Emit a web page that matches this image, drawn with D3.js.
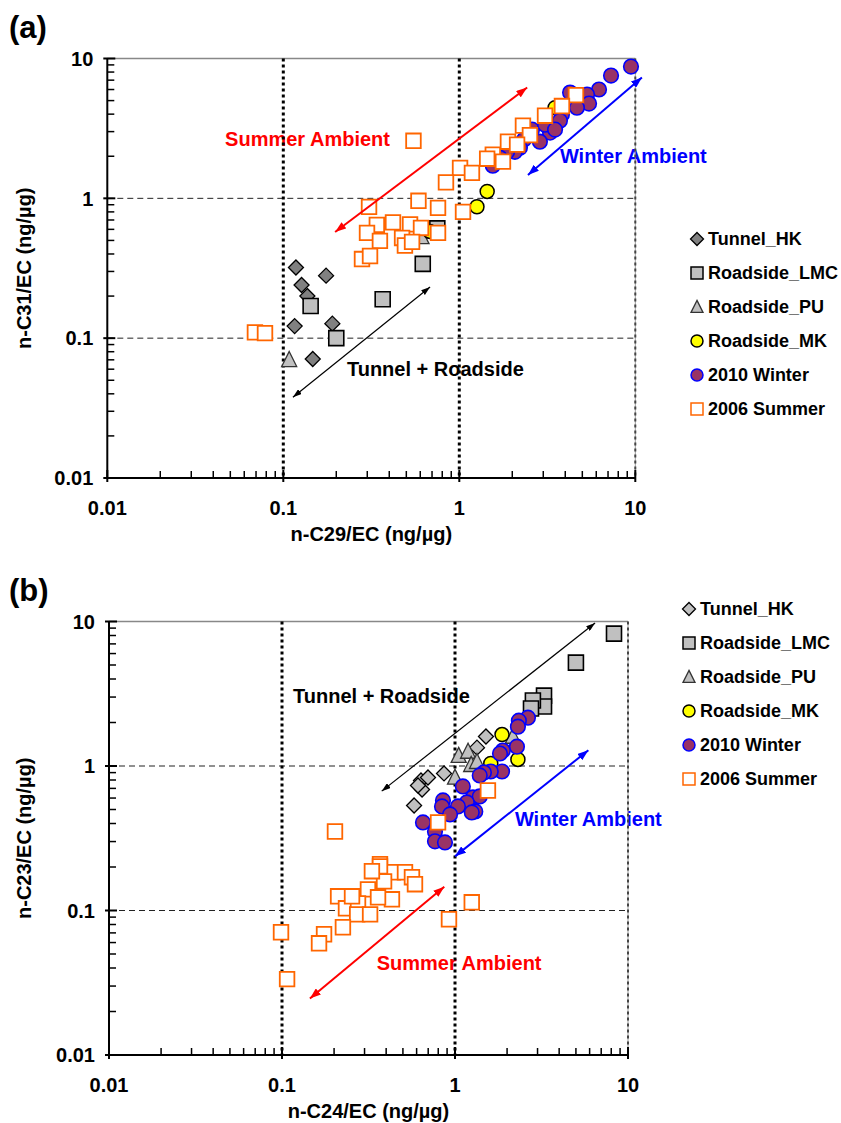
<!DOCTYPE html>
<html>
<head>
    <meta charset="utf-8">
    <title>n-alkane / EC scatter</title>
    <script src="https://cdn.jsdelivr.net/npm/d3@7"></script>
    <style>
        body { margin: 0; background: #fff; }
        svg text { font-family: "Liberation Sans", Arial, Helvetica, sans-serif; font-weight: bold; }
    </style>
</head>
<body>
<script>
    // ---- data (ratios in ng/µg) ----
    var seriesNames = ["Tunnel_HK", "Roadside_LMC", "Roadside_PU", "Roadside_MK", "2010 Winter", "2006 Summer"];
    var tickValues = [0.01, 0.1, 1, 10];
    var tickLabels = ["0.01", "0.1", "1", "10"];

    // panel (a): n-C29/EC vs n-C31/EC
    var tunnelA = [[0.118,0.32],[0.127,0.24],[0.137,0.20],[0.175,0.28],[0.116,0.122],[0.19,0.127],[0.147,0.071]];
    var lmcA = [[0.143,0.17],[0.367,0.19],[0.62,0.34],[0.20,0.10],[0.75,0.61]];
    var puA = [[0.108,0.07],[0.61,0.53]];
    var mkA = [[1.44,1.12],[1.26,0.87],[0.68,0.58],[3.5,4.45]];
    var winterA = [[9.45,8.76],[7.28,7.55],[6.22,6.0],[5.32,5.52],[4.26,5.71],[5.46,4.76],[4.66,4.45],
        [3.83,3.97],[3.73,3.59],[3.28,2.95],[2.87,2.54],[2.59,3.10],[2.33,2.63],[2.21,2.30],[2.07,2.15],
        [1.87,2.15],[1.55,1.71],[1.70,1.95],[3.07,3.36],[3.50,3.10]];
    var summerA = [[4.60,5.47],[3.83,4.57],[3.07,3.90],[2.30,3.31],[2.52,2.83],[1.89,2.54],[2.13,2.42],
        [1.55,2.05],[1.77,1.83],[1.44,1.92],[1.01,1.65],[1.18,1.52],[0.84,1.30],[0.549,2.58],[0.586,0.96],
        [0.757,0.855],[1.05,0.80],[0.307,0.869],[0.34,0.645],[0.42,0.673],[0.525,0.651],[0.606,0.614],
        [0.757,0.566],[0.299,0.566],[0.354,0.496],[0.473,0.521],[0.491,0.46],[0.539,0.488],[0.28,0.368],
        [0.311,0.387],[0.069,0.110],[0.0787,0.1086]];

    // panel (b): n-C24/EC vs n-C23/EC
    var tunnelB = [[0.58,0.533],[0.636,0.794],[0.698,0.833],[0.864,0.888],[1.34,1.34],[1.51,1.60],[0.645,0.688],[0.611,0.733]];
    var lmcB = [[8.30,8.24],[5.00,5.19],[3.27,3.07],[3.27,2.58],[2.82,2.84],[2.75,2.50]];
    var puB = [[1.05,1.18],[1.19,1.26],[1.24,1.02],[1.0,0.833],[2.16,1.60],[1.34,1.07]];
    var mkB = [[1.87,1.65],[2.31,1.11],[1.61,1.04]];
    var winterB = [[2.64,2.16],[2.34,2.06],[2.31,1.87],[2.28,1.36],[1.89,1.28],[1.82,1.22],[1.87,0.916],
        [1.61,0.916],[1.47,0.902],[1.39,0.86],[1.11,0.722],[1.27,0.606],[1.39,0.616],[1.17,0.56],[1.04,0.525],
        [1.31,0.485],[1.25,0.477],[0.852,0.578],[0.841,0.525],[0.936,0.462],[0.653,0.407],[0.766,0.352],
        [0.766,0.301],[0.875,0.296]];
    var summerB = [[1.55,0.677],[0.798,0.407],[0.2024,0.352],[0.3685,0.209],[0.438,0.184],[0.514,0.184],
        [0.564,0.170],[0.587,0.152],[0.389,0.159],[0.3685,0.202],[0.314,0.140],[0.432,0.1195],[0.359,0.1234],
        [0.211,0.1254],[0.2344,0.1036],[0.275,0.112],[0.272,0.094],[0.323,0.094],[0.225,0.0766],[0.175,0.0685],
        [0.1637,0.0593],[0.0987,0.0707],[0.107,0.0335],[0.923,0.087],[1.25,0.114],[0.254,0.1254],[0.331,0.187]];

    // ---- page ----
    var width = 841, height = 1123;
    var svg = d3.select("body").append("svg")
        .attr("width", width)
        .attr("height", height);

    // arrow heads
    var defs = svg.append("defs");
    [["red", "#ff0000", 11, 8], ["blue", "#0000ff", 11, 8], ["black", "#000", 9, 6]].forEach(function(m) {
        defs.append("marker")
            .attr("id", "head-" + m[0])
            .attr("markerUnits", "userSpaceOnUse")
            .attr("markerWidth", m[2]).attr("markerHeight", m[3])
            .attr("refX", m[2]).attr("refY", m[3] / 2)
            .attr("orient", "auto-start-reverse")
            .append("path")
            .attr("d", "M0,0L" + m[2] + "," + (m[3] / 2) + "L0," + m[3] + "Z")
            .attr("fill", m[1]);
    });

    function symbolPath(type, s) {
        if (type === "diamond") return "M0," + (-s) + "L" + s + ",0L0," + s + "L" + (-s) + ",0Z";
        if (type === "square") return "M" + (-s) + "," + (-s) + "h" + (2 * s) + "v" + (2 * s) + "h" + (-2 * s) + "Z";
        if (type === "triangle") return "M0," + (-s * 1.1) + "L" + s + "," + (s * 0.9) + "L" + (-s) + "," + (s * 0.9) + "Z";
        return d3.symbol(d3.symbolCircle, Math.PI * s * s)();
    }

    function drawPanel(p) {
        var x = d3.scaleLog().domain([0.01, 10]).range([p.left, p.right]);
        var y = d3.scaleLog().domain([0.01, 10]).range([p.bottom, p.top]);
        var g = svg.append("g");

        // panel letter
        g.append("text").attr("x", 9).attr("y", p.top - 21)
            .style("font-size", "31px").text(p.letter);

        // annotations (gridlines are drawn over them, like in the figure)
        p.notes.forEach(function(n) {
            g.append("text")
                .attr("x", x(n.x)).attr("y", y(n.y))
                .attr("fill", n.color)
                .style("font-size", "20px")
                .text(n.text);
        });

        // grid
        [0.1, 1].forEach(function(v) {
            g.append("line")
                .attr("x1", p.left).attr("x2", p.right)
                .attr("y1", y(v)).attr("y2", y(v))
                .attr("stroke", "#222").attr("stroke-width", 1)
                .attr("stroke-dasharray", "6,4");
        });
        g.append("line")
            .attr("x1", p.left).attr("x2", p.right)
            .attr("y1", p.top).attr("y2", p.top)
            .attr("stroke", "#888").attr("stroke-width", 1.5);
        g.append("line")
            .attr("x1", p.right).attr("x2", p.right)
            .attr("y1", p.top).attr("y2", p.bottom)
            .attr("stroke", "#999").attr("stroke-width", 1);
        [0.1, 1, 10].forEach(function(v) {
            g.append("line")
                .attr("x1", x(v)).attr("x2", x(v))
                .attr("y1", p.top).attr("y2", p.bottom)
                .attr("stroke", v === 10 ? "#444" : "#000")
                .attr("stroke-width", v === 10 ? 2 : 3)
                .attr("stroke-dasharray", "3,3");
        });

        // axes
        var minor = [];
        [0.01, 0.1, 1].forEach(function(d) {
            for (var k = 2; k <= 9; k++) minor.push(d * k);
        });
        g.append("line").attr("x1", p.left).attr("x2", p.left)
            .attr("y1", p.top).attr("y2", p.bottom)
            .attr("stroke", "#000").attr("stroke-width", 2);
        g.append("line").attr("x1", p.left).attr("x2", p.right)
            .attr("y1", p.bottom).attr("y2", p.bottom)
            .attr("stroke", "#000").attr("stroke-width", 2);
        g.selectAll(".ymin").data(minor).enter().append("line")
            .attr("x1", p.left).attr("x2", p.left + 7)
            .attr("y1", function(d) { return y(d); }).attr("y2", function(d) { return y(d); })
            .attr("stroke", "#000").attr("stroke-width", 1.5);
        g.selectAll(".xmin").data(minor).enter().append("line")
            .attr("y1", p.bottom).attr("y2", p.bottom - 7)
            .attr("x1", function(d) { return x(d); }).attr("x2", function(d) { return x(d); })
            .attr("stroke", "#000").attr("stroke-width", 1.5);
        g.selectAll(".ymaj").data(tickValues).enter().append("line")
            .attr("x1", p.left - 4).attr("x2", p.left + 8)
            .attr("y1", function(d) { return y(d); }).attr("y2", function(d) { return y(d); })
            .attr("stroke", "#000").attr("stroke-width", 2);
        g.selectAll(".xmaj").data(tickValues).enter().append("line")
            .attr("y1", p.bottom + 4).attr("y2", p.bottom - 8)
            .attr("x1", function(d) { return x(d); }).attr("x2", function(d) { return x(d); })
            .attr("stroke", "#000").attr("stroke-width", 2);

        g.selectAll(".ylab").data(tickValues).enter().append("text")
            .attr("x", p.left - 14).attr("y", function(d) { return y(d); })
            .attr("dy", "0.36em").attr("text-anchor", "end")
            .style("font-size", "20px")
            .text(function(d, i) { return tickLabels[i]; });
        g.selectAll(".xlab").data(tickValues).enter().append("text")
            .attr("x", function(d) { return x(d); }).attr("y", p.bottom + 30)
            .attr("dy", "0.36em").attr("text-anchor", "middle")
            .style("font-size", "20px")
            .text(function(d, i) { return tickLabels[i]; });

        g.append("text")
            .attr("x", (p.left + p.right) / 2).attr("y", p.bottom + 56)
            .attr("dy", "0.36em").attr("text-anchor", "middle")
            .style("font-size", "20px").text(p.xTitle);
        g.append("text")
            .attr("transform", "translate(24," + ((p.top + p.bottom) / 2) + ") rotate(-90)")
            .attr("dy", "0.36em").attr("text-anchor", "middle")
            .style("font-size", "20px").text(p.yTitle);

        // points, in legend order so summer sits on top
        p.series.forEach(function(s) {
            g.append("g").selectAll("path").data(s.data).enter().append("path")
                .attr("transform", function(d) { return "translate(" + x(d[0]) + "," + y(d[1]) + ")"; })
                .attr("d", symbolPath(s.type, s.size))
                .attr("fill", s.fill).attr("stroke", s.stroke).attr("stroke-width", s.sw);
        });

        // double-headed arrows
        p.arrows.forEach(function(a) {
            g.append("line")
                .attr("x1", x(a.x1)).attr("y1", y(a.y1))
                .attr("x2", x(a.x2)).attr("y2", y(a.y2))
                .attr("stroke", a.color).attr("stroke-width", a.w)
                .attr("marker-start", "url(#head-" + a.head + ")")
                .attr("marker-end", "url(#head-" + a.head + ")");
        });

        // legend
        var lg = g.append("g");
        p.series.forEach(function(s, i) {
            var ly = p.legendY + i * 34;
            lg.append("path")
                .attr("transform", "translate(" + p.legendX + "," + ly + ")")
                .attr("d", symbolPath(s.type, s.type === "diamond" ? 6.5 : 6))
                .attr("fill", s.fill).attr("stroke", s.stroke)
                .attr("stroke-width", Math.min(s.sw, 1.5));
            lg.append("text")
                .attr("x", p.legendX + 11).attr("y", ly)
                .attr("dy", "0.36em")
                .style("font-size", "18px")
                .text(seriesNames[i]);
        });
    }

    function makeSeries(tun, tunFill, lmc, pu, mk, win, sum) {
        return [
            {data: tun, type: "diamond", size: 7.5, fill: tunFill, stroke: "#000", sw: 1.3},
            {data: lmc, type: "square", size: 7.5, fill: "#c0c0c0", stroke: "#000", sw: 1.6},
            {data: pu, type: "triangle", size: 7.5, fill: "#c0c0c0", stroke: "#333", sw: 1.3},
            {data: mk, type: "circle", size: 7, fill: "#ffff00", stroke: "#000", sw: 1.5},
            {data: win, type: "circle", size: 7.3, fill: "#993366", stroke: "#0000ff", sw: 1.6},
            {data: sum, type: "square", size: 7.3, fill: "#fff", stroke: "#ff6600", sw: 1.8}
        ];
    }

    drawPanel({
        letter: "(a)", left: 107.3, right: 635.3, top: 58.5, bottom: 478,
        xTitle: "n-C29/EC (ng/\u00b5g)", yTitle: "n-C31/EC (ng/\u00b5g)",
        legendX: 697, legendY: 239,
        series: makeSeries(tunnelA, "#808080", lmcA, puA, mkA, winterA, summerA),
        notes: [
            {text: "Summer Ambient", x: 0.0467, y: 2.38, color: "#ff0000"},
            {text: "Winter Ambient", x: 3.73, y: 1.80, color: "#0000ff"},
            {text: "Tunnel + Roadside", x: 0.230, y: 0.0534, color: "#000"}
        ],
        arrows: [
            {x1: 0.197, y1: 0.575, x2: 2.43, y2: 6.2, color: "#ff0000", w: 2, head: "red"},
            {x1: 2.455, y1: 1.47, x2: 10.9, y2: 7.31, color: "#0000ff", w: 2, head: "blue"},
            {x1: 0.1134, y1: 0.0378, x2: 0.682, y2: 0.232, color: "#000", w: 1.2, head: "black"}
        ]
    });

    drawPanel({
        letter: "(b)", left: 109, right: 628, top: 621.5, bottom: 1055,
        xTitle: "n-C24/EC (ng/\u00b5g)", yTitle: "n-C23/EC (ng/\u00b5g)",
        legendX: 689, legendY: 609,
        series: makeSeries(tunnelB, "#c0c0c0", lmcB, puB, mkB, winterB, summerB),
        notes: [
            {text: "Tunnel + Roadside", x: 0.1158, y: 2.75, color: "#000"},
            {text: "Winter Ambient", x: 2.22, y: 0.382, color: "#0000ff"},
            {text: "Summer Ambient", x: 0.3526, y: 0.0386, color: "#ff0000"}
        ],
        arrows: [
            {x1: 0.377, y1: 0.670, x2: 6.45, y2: 9.76, color: "#000", w: 1.2, head: "black"},
            {x1: 1.0, y1: 0.237, x2: 5.90, y2: 1.286, color: "#0000ff", w: 2, head: "blue"},
            {x1: 0.145, y1: 0.0246, x2: 0.867, y2: 0.146, color: "#ff0000", w: 2, head: "red"}
        ]
    });
</script>
</body>
</html>
